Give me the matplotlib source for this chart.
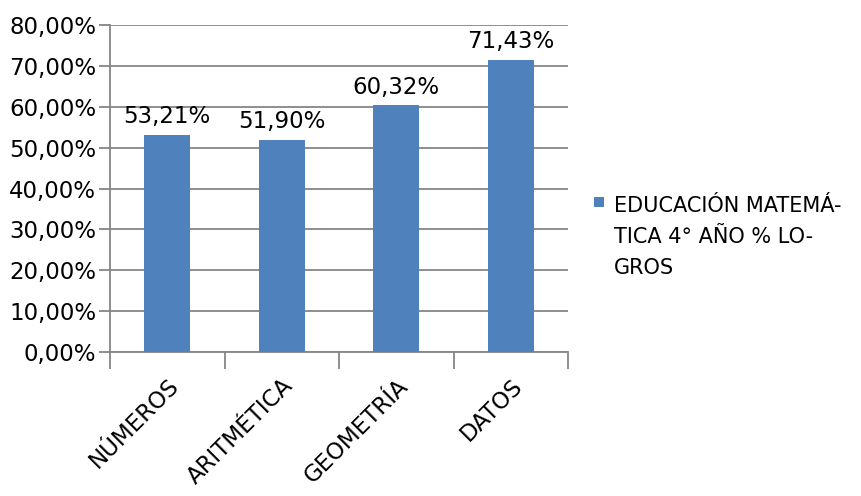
import matplotlib.pyplot as plt
import matplotlib.patches as patches
import numpy as np

# Data
categories = ['NÚMEROS', 'ARITMÉTICA', 'GEOMETRÍA', 'DATOS']
values = [53.21, 51.90, 60.32, 71.43]
series_lines = ['EDUCACIÓN MATEMÁ-', 'TICA 4° AÑO % LO-', 'GROS']
yticks = [0, 10, 20, 30, 40, 50, 60, 70, 80]

plt.rcParams['font.family'] = ['DejaVu Sans']

bar_color = '#4F81BD'
grid_color = '#868686'
fs = 16.5

fig = plt.figure(figsize=(8.61, 4.96), dpi=100)
ax = fig.add_axes([0.1278, 0.2903, 0.532, 0.6593])

x = np.arange(len(categories))
ax.bar(x, values, width=0.4, color=bar_color, zorder=3)

for xi, v in zip(x, values):
    ax.text(xi, v + 1.6, f'{v:.2f}%'.replace('.', ','), ha='center', va='bottom',
            fontsize=fs)

ax.set_xlim(-0.5, len(categories) - 0.5)
ax.set_ylim(0, 80)
ax.set_yticks(yticks)
ax.set_yticklabels([f'{t:.2f}%'.replace('.', ',') for t in yticks], fontsize=fs)
ax.yaxis.grid(True, color=grid_color, linewidth=1.3, zorder=0)

# category boundaries as major ticks, labels at centres
ax.set_xticks(np.arange(-0.5, len(categories), 1.0))
ax.set_xticklabels([])
ax.set_xticks(x, minor=True)
ax.set_xticklabels(categories, minor=True, rotation=45, ha='right',
                   rotation_mode='anchor', fontsize=fs)
ax.tick_params(axis='x', which='major', length=12, color=grid_color, width=1.3)
ax.tick_params(axis='x', which='minor', length=0, pad=16)
ax.tick_params(axis='y', length=8, color=grid_color, width=1.3, pad=2)

for side in ['top', 'right']:
    ax.spines[side].set_visible(False)
for side in ['left', 'bottom']:
    ax.spines[side].set_color(grid_color)
    ax.spines[side].set_linewidth(1.3)

# legend: square marker aligned with first text line
W, H = 861, 496
fig.patches.append(patches.Rectangle((594 / W, 1 - 207 / H), 10 / W, 10 / H,
                                     transform=fig.transFigure, facecolor=bar_color,
                                     edgecolor='none'))
for i, line in enumerate(series_lines):
    fig.text(614 / W, 1 - (212 + 31 * i) / H, line, fontsize=15, va='baseline', ha='left')

fig.savefig('out.png', dpi=100)
